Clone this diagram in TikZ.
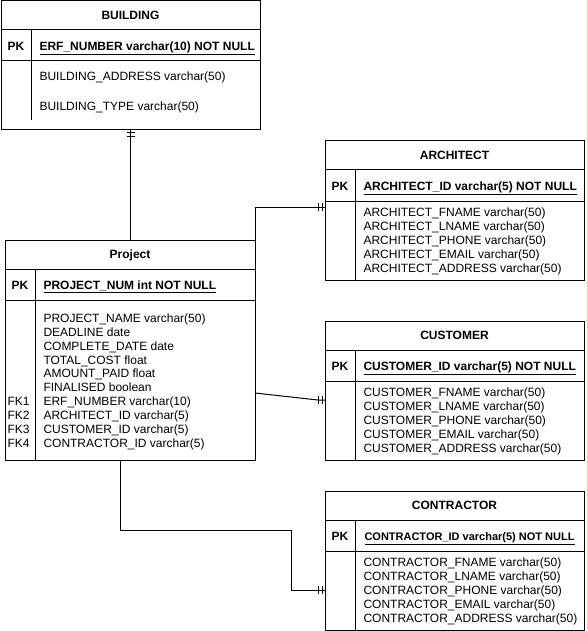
\documentclass[tikz,border=0pt]{standalone}
\usepackage{fontspec}
\setmainfont{Liberation Sans}
\usetikzlibrary{positioning,calc,decorations.markings}
\newcommand{\erfont}{\fontsize{12}{14}\selectfont}
\newcommand{\rowsep}[2]{\draw ([yshift=-#2pt]#1.north west) -- ([yshift=-#2pt]#1.north east);}
\newcommand{\entity}[6]{%
  \node[tbl, minimum width=#4, minimum height=#5] (#1) at (#2,#3) {};
  \node[ttl] (#1-title) at ([yshift=-14.5pt]#1.north) {#6};
  \rowsep{#1}{29} \rowsep{#1}{60}
  \node[pklbl] (#1-pk) at ([xshift=15pt,yshift=-45.5pt]#1.north west) {PK};}
\tikzset{
  tbl/.style={draw, anchor=north west, inner sep=0pt, outer sep=0pt},
  ttl/.style={font=\erfont\bfseries, inner sep=0pt, text height=8.6pt, text depth=0pt},
  pklbl/.style={ttl},
  fld/.style={anchor=west, inner sep=0pt, text height=8.6pt, text depth=0pt},
  key/.style={fld, font=\erfont\bfseries},
  mand start/.style={postaction={decorate, decoration={markings,
      mark=at position 3pt with {\draw[line width=1pt] (0,-4pt) -- (0,4pt);},
      mark=at position 7pt with {\draw[line width=1pt] (0,-4pt) -- (0,4pt);}}}},
  mand end/.style={postaction={decorate, decoration={markings,
      mark=at position -3pt with {\draw[line width=1pt] (0,-4pt) -- (0,4pt);},
      mark=at position -7pt with {\draw[line width=1pt] (0,-4pt) -- (0,4pt);}}}}
}
\begin{document}
\begin{tikzpicture}[x=1pt, y=-1pt, font=\erfont, line width=1pt]
  \useasboundingbox (0,0) rectangle (586,631);
  % ------------------------------------------------------------------ BUILDING
  \entity{building}{1}{1}{259}{129}{BUILDING}
  \draw ([xshift=30pt,yshift=-29pt]building.north west) -- ++(0,90);
  \node[key] (building-key) at ([xshift=38pt,yshift=-45.5pt]building.north west) {\underline{ERF\_NUMBER varchar(10) NOT NULL}};
  \node[fld] (building-f1) at ([xshift=38pt,yshift=-75pt]building.north west) {BUILDING\_ADDRESS varchar(50)};
  \node[fld] (building-f2) at ([xshift=38pt,yshift=-105pt]building.north west) {BUILDING\_TYPE varchar(50)};
  % ------------------------------------------------------------------ Project
  \entity{project}{5}{240}{250}{220}{Project}
  \draw ([xshift=30pt,yshift=-29pt]project.north west) -- ([xshift=30pt]project.south west);
  \node[key] (project-key) at ([xshift=38pt,yshift=-45.5pt]project.north west) {\underline{PROJECT\_NUM int NOT NULL}};
  \foreach \f [count=\i from 0] in {PROJECT\_NAME varchar(50), DEADLINE date, COMPLETE\_DATE date,
      TOTAL\_COST float, AMOUNT\_PAID float, FINALISED boolean, ERF\_NUMBER varchar(10),
      ARCHITECT\_ID varchar(5), CUSTOMER\_ID varchar(5), CONTRACTOR\_ID varchar(5)}
    {\node[fld] (project-f\i) at ([xshift=38pt,yshift={-78-13.9*\i}]project.north west) {\f};}
  \foreach \k in {1,...,4}
    {\node[fld] (project-fk\k) at ([xshift=2pt,yshift={-78-13.9*(\k+5)}]project.north west) {FK\k};}
  % ------------------------------------------------------------------ ARCHITECT
  \entity{architect}{325}{141}{259}{139}{ARCHITECT}
  \draw ([xshift=30pt,yshift=-29pt]architect.north west) -- ([xshift=30pt]architect.south west);
  \node[key] (architect-key) at ([xshift=38pt,yshift=-45.5pt]architect.north west) {\underline{ARCHITECT\_ID varchar(5) NOT NULL}};
  \foreach \f [count=\i from 0] in {FNAME, LNAME, PHONE, EMAIL, ADDRESS}
    {\node[fld] (architect-f\i) at ([xshift=38pt,yshift={-71-14*\i}]architect.north west) {ARCHITECT\_\f{} varchar(50)};}
  % ------------------------------------------------------------------ CUSTOMER
  \entity{customer}{325}{321}{259}{139}{CUSTOMER}
  \draw ([xshift=30pt,yshift=-29pt]customer.north west) -- ([xshift=30pt]customer.south west);
  \node[key] (customer-key) at ([xshift=38pt,yshift=-45.5pt]customer.north west) {\underline{CUSTOMER\_ID varchar(5) NOT NULL}};
  \foreach \f [count=\i from 0] in {FNAME, LNAME, PHONE, EMAIL, ADDRESS}
    {\node[fld] (customer-f\i) at ([xshift=38pt,yshift={-71-14*\i}]customer.north west) {CUSTOMER\_\f{} varchar(50)};}
  % ------------------------------------------------------------------ CONTRACTOR
  \entity{contractor}{325}{491}{259}{139}{CONTRACTOR}
  \draw ([xshift=30pt,yshift=-29pt]contractor.north west) -- ([xshift=30pt]contractor.south west);
  \node[key, font=\fontsize{11}{13}\selectfont\bfseries] (contractor-key) at ([xshift=39pt,yshift=-45.5pt]contractor.north west) {\underline{CONTRACTOR\_ID varchar(5) NOT NULL}};
  \foreach \f [count=\i from 0] in {FNAME, LNAME, PHONE, EMAIL, ADDRESS}
    {\node[fld] (contractor-f\i) at ([xshift=38pt,yshift={-71-14*\i}]contractor.north west) {CONTRACTOR\_\f{} varchar(50)};}
  % ------------------------------------------------------------------ relations
  \coordinate (ar-in) at ([yshift=-66pt]architect.north west);
  \coordinate (pj-cu) at ([yshift=-153pt]project.north east);
  \coordinate (cu-in) at ([yshift=-79pt]customer.north west);
  \coordinate (pj-ct) at ([xshift=-10pt]project.south);
  \coordinate (ct-in) at ([yshift=-99pt]contractor.north west);
  \draw[mand start] (building.south) -- (building.south |- project.north);
  \draw[mand end] (project.north east) |- (ar-in);
  \draw[mand end] (pj-cu) -- ([xshift=-7pt]cu-in) -- (cu-in);
  \draw[mand end] (pj-ct) |- ++(171,70) |- (ct-in);
\end{tikzpicture}
\end{document}
